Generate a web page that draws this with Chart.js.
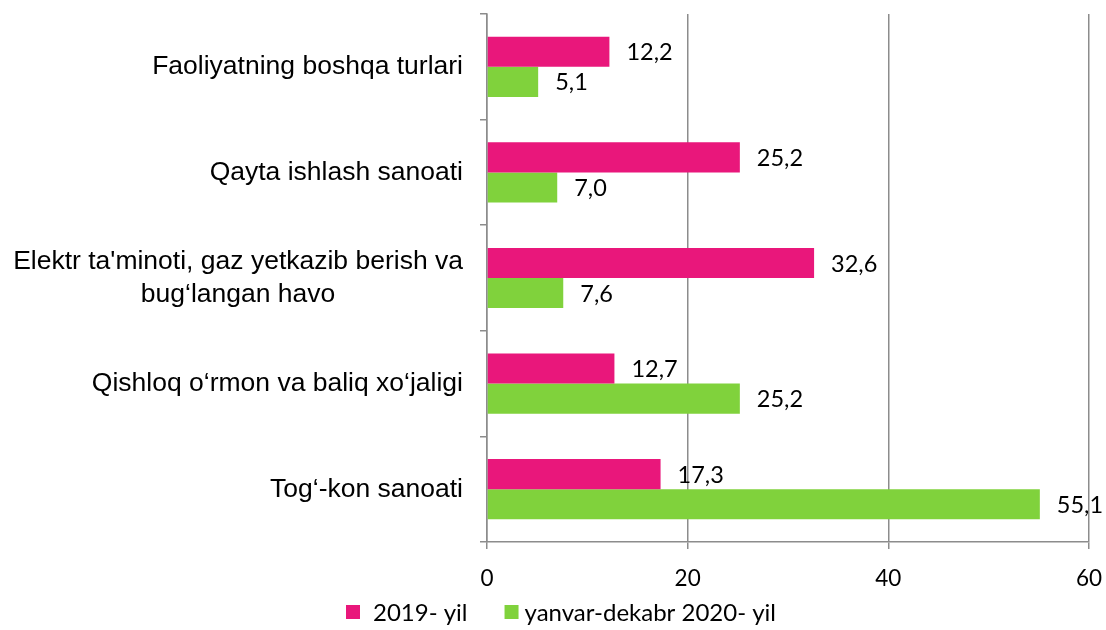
<!DOCTYPE html>
<html>
<head>
<meta charset="utf-8">
<title>Chart</title>
<script src="https://cdn.jsdelivr.net/npm/chart.js@4"></script>
<style>
  html, body { margin: 0; padding: 0; background: #fff; }
  #wrap { width: 1106px; height: 630px; }
</style>
</head>
<body>
<div id="wrap"><canvas id="grafica" width="1106" height="630"></canvas></div>
<script>
const categorias = [
  ["Faoliyatning boshqa turlari"],
  ["Qayta ishlash sanoati"],
  ["Elektr ta'minoti, gaz yetkazib berish va", "bug‘langan havo"],
  ["Qishloq o‘rmon va baliq xo‘jaligi"],
  ["Tog‘-kon sanoati"]
];
const valores2019 = [12.2, 25.2, 32.6, 12.7, 17.3];
const valores2020 = [5.1, 7.0, 7.6, 25.2, 55.1];
const ticksX = [0, 20, 40, 60];
const nombresSeries = ["2019- yil", "yanvar-dekabr 2020- yil"];

const colorRosa = '#e9177b';
const colorVerde = '#80d23c';
const colorGris = '#8c8c8c';

function formato(v) {
  return v.toFixed(1).replace('.', ',');
}

// etiquetas de valor al final de cada barra
const etiquetasValor = {
  id: 'etiquetasValor',
  afterDatasetsDraw(chart) {
    const ctx = chart.ctx;
    ctx.save();
    ctx.font = '23.5px Lato';
    ctx.fillStyle = '#000';
    ctx.textAlign = 'left';
    ctx.textBaseline = 'middle';
    chart.data.datasets.forEach((ds, i) => {
      chart.getDatasetMeta(i).data.forEach((bar, j) => {
        ctx.fillText(formato(ds.data[j]), bar.x + 17, bar.y + 1);
      });
    });
    ctx.restore();
  }
};

// nombres de categorias a la izquierda (lineas centradas entre si)
const etiquetasCategoria = {
  id: 'etiquetasCategoria',
  afterDraw(chart) {
    const ctx = chart.ctx;
    const y = chart.scales.y;
    const derecha = chart.chartArea.left - 24;
    ctx.save();
    ctx.font = '26.5px "Liberation Sans"';
    ctx.fillStyle = '#000';
    ctx.textAlign = 'center';
    ctx.textBaseline = 'middle';
    categorias.forEach((lineas, i) => {
      const centroY = y.getPixelForValue(i);
      const ancho = Math.max(...lineas.map(l => ctx.measureText(l).width));
      const cx = derecha - ancho / 2;
      const alto = 33;
      const inicio = centroY - (lineas.length - 1) * alto / 2;
      lineas.forEach((l, k) => ctx.fillText(l, cx, inicio + k * alto));
    });
    ctx.restore();
  }
};

// leyenda abajo
const leyenda = {
  id: 'leyenda',
  afterDraw(chart) {
    const ctx = chart.ctx;
    const colores = [colorRosa, colorVerde];
    const caja = 14, huecos = [13, 6], separacion = 37;
    ctx.save();
    ctx.font = '24px Lato';
    ctx.textBaseline = 'middle';
    ctx.textAlign = 'left';
    let x = 346;
    const yc = 612;
    nombresSeries.forEach((n, i) => {
      ctx.fillStyle = colores[i];
      ctx.fillRect(x, yc - caja / 2, caja, caja);
      ctx.fillStyle = '#000';
      ctx.fillText(n, x + caja + huecos[i], yc + 1);
      x += caja + huecos[i] + ctx.measureText(n).width + separacion;
    });
    ctx.restore();
  }
};

new Chart(document.getElementById('grafica'), {
  type: 'bar',
  data: {
    labels: categorias,
    datasets: [{
      label: nombresSeries[0],
      data: valores2019,
      backgroundColor: colorRosa,
      borderWidth: 0
    }, {
      label: nombresSeries[1],
      data: valores2020,
      backgroundColor: colorVerde,
      borderWidth: 0
    }]
  },
  options: {
    indexAxis: 'y',
    responsive: false,
    animation: false,
    layout: {
      padding: { top: 14, right: 17, left: 0, bottom: 0 }
    },
    datasets: {
      bar: { barPercentage: 1, categoryPercentage: 0.57 }
    },
    plugins: {
      legend: { display: false },
      tooltip: { enabled: false }
    },
    scales: {
      x: {
        min: 0,
        max: 60,
        afterBuildTicks: s => { s.ticks = ticksX.map(v => ({ value: v })); },
        afterFit: s => { s.height = 88; s.paddingLeft = 0; s.paddingRight = 0; },
        grid: { color: colorGris, lineWidth: 1.5, tickLength: 7 },
        border: { color: colorGris, width: 1.5 },
        ticks: {
          color: '#000',
          font: { family: 'Lato', size: 22.5 },
          padding: 16
        }
      },
      y: {
        afterFit: s => { s.width = 487; },
        grid: { offset: true, drawOnChartArea: false, color: colorGris, lineWidth: 1.5, tickLength: 7 },
        border: { color: colorGris, width: 1.5 },
        ticks: { display: false }
      }
    }
  },
  plugins: [etiquetasValor, etiquetasCategoria, leyenda]
});
</script>
</body>
</html>
